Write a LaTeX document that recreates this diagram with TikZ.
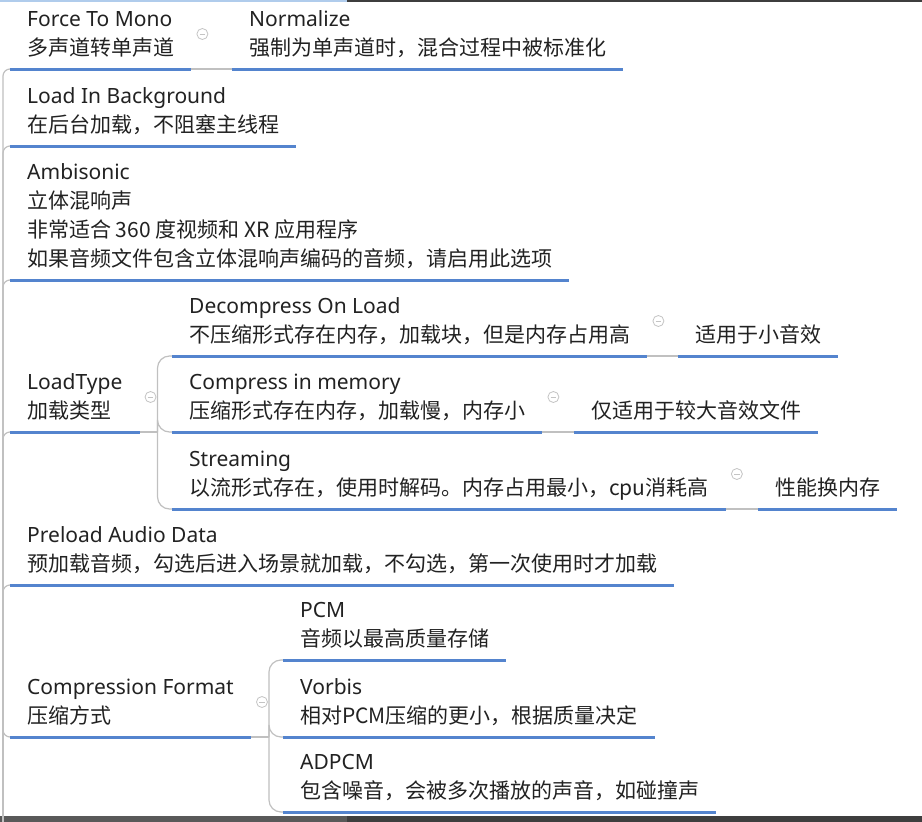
\documentclass[tikz,border=0pt]{standalone}
\usepackage{fontspec}
\setmainfont{Noto Sans}
\newfontfamily\cjkf{Noto Sans CJK SC}
\newfontfamily\latf{Noto Sans}
\newcommand\tpctitle[1]{{\latf #1}}
\definecolor{ulblue}{RGB}{84,132,206}
\definecolor{conngray}{RGB}{192,192,192}
\definecolor{icong}{RGB}{196,196,196}
\definecolor{txt}{RGB}{34,34,34}
\definecolor{barc}{RGB}{62,62,62}
\definecolor{topc}{RGB}{176,204,236}
\begin{document}
\begin{tikzpicture}[x=1pt,y=-1pt,
  topic/.style={anchor=south west, align=left, inner xsep=17pt, inner ysep=0pt,
    text depth=13pt, font=\cjkf\fontsize{21}{29}\selectfont, text=txt},
  uline/.style={draw=ulblue, line width=3pt},
  conn/.style={draw=conngray, line width=1.2pt},
  bracket/.style={conn, rounded corners=12pt},
  spine/.style={conn, rounded corners=7pt},
  fold/.style={circle, draw=icong, line width=0.8pt, minimum size=11pt, inner sep=0pt,
    path picture={\draw[icong,line width=0.8pt]
      ([xshift=-2.8pt]path picture bounding box.center) --
      ([xshift=2.8pt]path picture bounding box.center);}}
]
\useasboundingbox (0,0) rectangle (922,822);
\fill[white] (0,0) rectangle (922,822);
% screen edges
\draw[topc, line width=1.5pt] (0,0.75) -- (922,0.75);
\draw[barc, line width=1.5pt] (347,0.75) -- (922,0.75);
\fill[barc] (0,816) rectangle (922,822);
\fill[black!65] (0,816) rectangle (347,822);

% topics
\node[topic] (fm) at (10,69) {\tpctitle{Force To Mono}\\多声道转单声道};
\node[topic] (norm) at (232,69) {\tpctitle{Normalize}\\强制为单声道时，混合过程中被标准化};
\node[topic] (lbg) at (10,146) {\tpctitle{Load In Background}\\在后台加载，不阻塞主线程};
\node[topic] (amb) at (10,280) {\tpctitle{Ambisonic}\\立体混响声\\非常适合 360 度视频和 XR 应用程序\\如果音频文件包含立体混响声编码的音频，请启用此选项};
\node[topic] (lt) at (10,432) {\tpctitle{LoadType}\\加载类型};
\node[topic] (dec) at (172,356) {\tpctitle{Decompress On Load}\\不压缩形式存在内存，加载块，但是内存占用高};
\node[topic] (decn) at (678,356) {适用于小音效};
\node[topic] (cim) at (172,432) {\tpctitle{Compress in memory}\\压缩形式存在内存，加载慢，内存小};
\node[topic] (cimn) at (574,432) {仅适用于较大音效文件};
\node[topic] (str) at (172,509) {\tpctitle{Streaming}\\以流形式存在，使用时解码。内存占用最小，cpu消耗高};
\node[topic] (strn) at (758,509) {性能换内存};
\node[topic] (pre) at (10,585) {\tpctitle{Preload Audio Data}\\预加载音频，勾选后进入场景就加载，不勾选，第一次使用时才加载};
\node[topic] (cf) at (10,737) {\tpctitle{Compression Format}\\压缩方式};
\node[topic] (pcm) at (283,660) {\tpctitle{PCM}\\音频以最高质量存储};
\node[topic] (vor) at (283,737) {\tpctitle{Vorbis}\\相对PCM压缩的更小，根据质量决定};
\node[topic] (adp) at (283,812) {\tpctitle{ADPCM}\\包含噪音，会被多次播放的声音，如碰撞声};

% connectors
\coordinate (root) at (3,660);
\coordinate (below) at (3,822);
\coordinate (jlt) at ([xshift=18pt]lt.south east);
\coordinate (jcf) at ([xshift=18pt]cf.south east);
\draw[conn] (root) -- (below);
\foreach \n in {fm,lbg,amb,lt,pre,cf} \draw[spine] (root) |- (\n.south west);
\draw[conn] (fm.south east) -- (norm.south west);
\draw[conn] (lt.south east) -- (jlt);
\foreach \n in {dec,cim,str} \draw[bracket] (jlt) |- (\n.south west);
\draw[conn] (dec.south east) -- (decn.south west);
\draw[conn] (cim.south east) -- (cimn.south west);
\draw[conn] (str.south east) -- (strn.south west);
\draw[conn] (cf.south east) -- (jcf);
\foreach \n in {pcm,vor,adp} \draw[bracket] (jcf) |- (\n.south west);

% underlines
\foreach \n in {fm,norm,lbg,amb,lt,dec,decn,cim,cimn,str,strn,pre,cf,pcm,vor,adp}
  \draw[uline] (\n.south west) -- (\n.south east);

% fold icons
\foreach \n in {fm,lt,dec,cim,str,cf}
  \node[fold] (i\n) at ([xshift=11pt,yshift=35pt]\n.south east) {};
\end{tikzpicture}
\end{document}
